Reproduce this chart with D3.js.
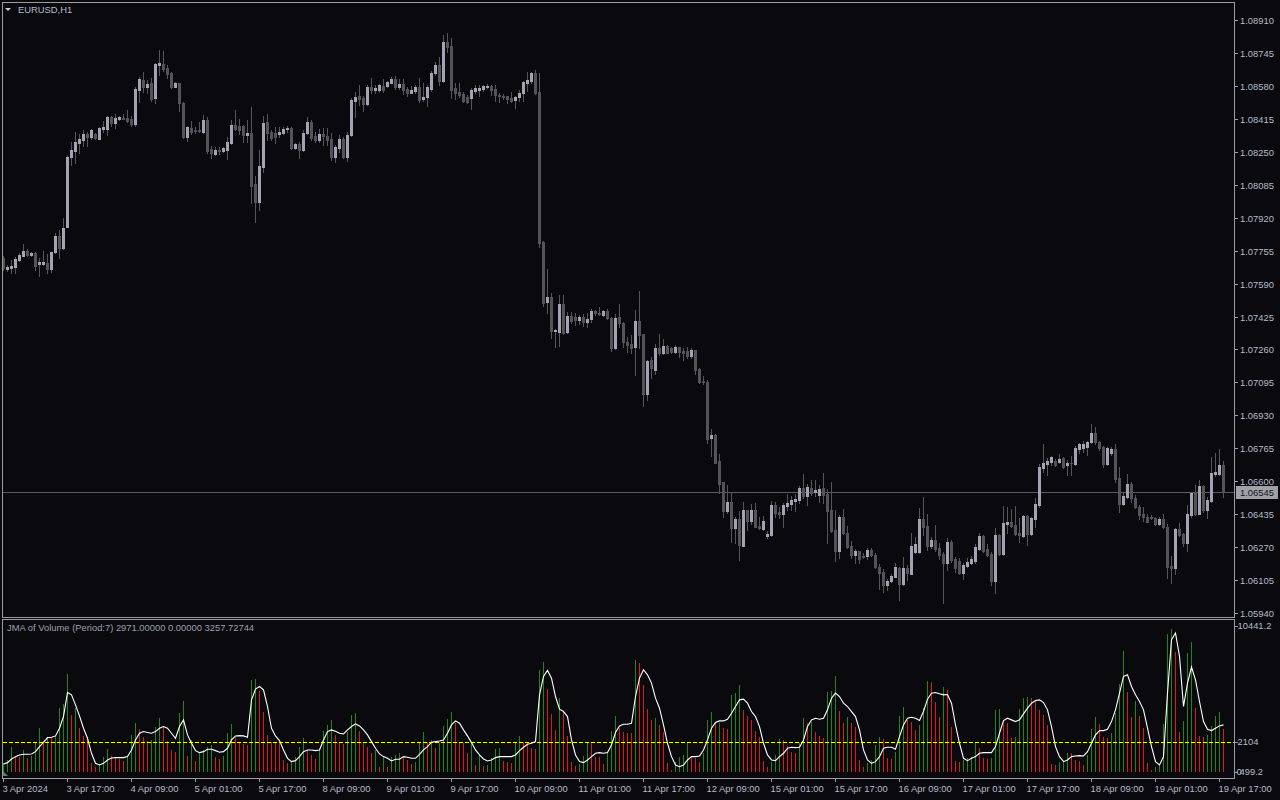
<!DOCTYPE html>
<html><head><meta charset="utf-8">
<script src="https://cdn.jsdelivr.net/npm/d3@7"></script>
<style>
html,body{margin:0;padding:0;background:#0a0a0e;overflow:hidden;}
svg{display:block;}
text{font-family:"Liberation Sans",Arial,sans-serif;font-size:9.4px;}
</style></head><body>
<svg id="c" width="1280" height="800"></svg>
<script>
// ---------------- DATA ----------------
const symbolTitle = "EURUSD,H1";
const indicatorTitle = "JMA of Volume (Period:7) 2971.00000 0.00000 3257.72744";
const firstBarUTC = "2024-04-03T01:00:00Z";

const opens = [1.07718,1.07663,1.07668,1.07673,1.07708,1.07728,1.07753,1.07733,1.07743,1.07688,
1.07688,1.07693,1.07663,1.07748,1.07828,1.07768,1.07873,1.08224,1.08254,1.08294,
1.08309,1.08339,1.08324,1.08339,1.08314,1.08364,1.08364,1.08424,1.08394,1.08414,
1.08419,1.08419,1.08414,1.08389,1.08559,1.08609,1.08574,1.08594,1.08519,1.08685,
1.08690,1.08670,1.08645,1.08574,1.08594,1.08494,1.08324,1.08369,1.08359,1.08359,
1.08349,1.08409,1.08264,1.08239,1.08259,1.08254,1.08259,1.08294,1.08384,1.08379,
1.08379,1.08334,1.08344,1.08089,1.07998,1.08174,1.08399,1.08349,1.08344,1.08339,
1.08344,1.08364,1.08369,1.08269,1.08289,1.08259,1.08344,1.08399,1.08329,1.08309,
1.08339,1.08329,1.08314,1.08224,1.08269,1.08314,1.08224,1.08334,1.08504,1.08529,
1.08519,1.08489,1.08574,1.08559,1.08559,1.08579,1.08579,1.08594,1.08614,1.08574,
1.08589,1.08564,1.08544,1.08554,1.08574,1.08514,1.08524,1.08564,1.08645,1.08685,
1.08604,1.08800,1.08780,1.08569,1.08549,1.08539,1.08524,1.08519,1.08554,1.08559,
1.08564,1.08574,1.08579,1.08564,1.08534,1.08529,1.08529,1.08519,1.08509,1.08524,
1.08544,1.08594,1.08604,1.08645,1.08549,1.07798,1.07498,1.07523,1.07352,1.07347,
1.07488,1.07347,1.07427,1.07422,1.07407,1.07422,1.07397,1.07412,1.07453,1.07443,
1.07432,1.07453,1.07417,1.07267,1.07422,1.07392,1.07297,1.07287,1.07272,1.07402,
1.07337,1.07037,1.07207,1.07157,1.07267,1.07242,1.07277,1.07267,1.07247,1.07272,
1.07252,1.07252,1.07227,1.07257,1.07162,1.07102,1.07097,1.06816,1.06831,1.06701,
1.06596,1.06451,1.06496,1.06366,1.06411,1.06276,1.06456,1.06401,1.06456,1.06376,
1.06361,1.06326,1.06331,1.06481,1.06446,1.06436,1.06476,1.06486,1.06501,1.06506,
1.06566,1.06526,1.06566,1.06546,1.06531,1.06566,1.06536,1.06456,1.06356,1.06250,
1.06421,1.06341,1.06276,1.06230,1.06250,1.06225,1.06225,1.06255,1.06230,1.06170,
1.06145,1.06080,1.06100,1.06120,1.06165,1.06085,1.06165,1.06135,1.06245,1.06245,
1.06411,1.06376,1.06276,1.06306,1.06266,1.06235,1.06190,1.06296,1.06210,1.06200,
1.06140,1.06175,1.06190,1.06200,1.06261,1.06326,1.06261,1.06235,1.06100,1.06331,
1.06235,1.06386,1.06396,1.06381,1.06341,1.06326,1.06426,1.06336,1.06411,1.06481,
1.06666,1.06686,1.06696,1.06701,1.06696,1.06716,1.06681,1.06691,1.06686,1.06761,
1.06766,1.06771,1.06796,1.06841,1.06796,1.06771,1.06686,1.06741,1.06761,1.06616,
1.06486,1.06521,1.06586,1.06516,1.06471,1.06436,1.06421,1.06421,1.06416,1.06386,
1.06411,1.06371,1.06175,1.06165,1.06361,1.06336,1.06291,1.06431,1.06541,1.06436,
1.06576,1.06456,1.06501,1.06636,1.06636,1.06681];

const highs = [1.07728,1.07683,1.07708,1.07723,1.07743,1.07788,1.07763,1.07748,1.07748,1.07718,
1.07753,1.07738,1.07748,1.07843,1.07858,1.07918,1.08234,1.08299,1.08349,1.08339,
1.08359,1.08349,1.08364,1.08344,1.08374,1.08404,1.08429,1.08429,1.08439,1.08429,
1.08439,1.08459,1.08429,1.08574,1.08625,1.08650,1.08609,1.08620,1.08695,1.08760,
1.08755,1.08685,1.08650,1.08599,1.08594,1.08499,1.08379,1.08404,1.08374,1.08399,
1.08434,1.08424,1.08279,1.08274,1.08274,1.08274,1.08324,1.08409,1.08459,1.08414,
1.08384,1.08409,1.08474,1.08129,1.08259,1.08429,1.08439,1.08359,1.08374,1.08374,
1.08374,1.08379,1.08374,1.08294,1.08299,1.08359,1.08424,1.08409,1.08349,1.08364,
1.08369,1.08369,1.08344,1.08284,1.08334,1.08324,1.08349,1.08519,1.08549,1.08584,
1.08529,1.08584,1.08620,1.08584,1.08589,1.08614,1.08604,1.08625,1.08630,1.08614,
1.08614,1.08574,1.08579,1.08584,1.08620,1.08594,1.08584,1.08655,1.08700,1.08725,
1.08835,1.08845,1.08820,1.08594,1.08594,1.08549,1.08534,1.08569,1.08584,1.08584,
1.08584,1.08589,1.08584,1.08584,1.08544,1.08539,1.08529,1.08549,1.08529,1.08559,
1.08604,1.08650,1.08650,1.08660,1.08645,1.07803,1.07663,1.07543,1.07362,1.07533,
1.07533,1.07448,1.07448,1.07443,1.07432,1.07438,1.07443,1.07463,1.07458,1.07473,
1.07458,1.07463,1.07422,1.07438,1.07488,1.07397,1.07322,1.07332,1.07458,1.07553,
1.07337,1.07207,1.07222,1.07287,1.07337,1.07312,1.07282,1.07272,1.07282,1.07272,
1.07267,1.07272,1.07267,1.07257,1.07167,1.07127,1.07107,1.06862,1.06836,1.06736,
1.06596,1.06581,1.06541,1.06421,1.06451,1.06496,1.06456,1.06486,1.06491,1.06421,
1.06426,1.06351,1.06501,1.06496,1.06471,1.06491,1.06536,1.06526,1.06536,1.06576,
1.06636,1.06586,1.06606,1.06606,1.06581,1.06641,1.06561,1.06596,1.06456,1.06431,
1.06461,1.06376,1.06301,1.06261,1.06250,1.06240,1.06266,1.06266,1.06240,1.06185,
1.06160,1.06110,1.06135,1.06190,1.06170,1.06220,1.06180,1.06341,1.06321,1.06466,
1.06521,1.06436,1.06321,1.06381,1.06291,1.06245,1.06316,1.06306,1.06220,1.06215,
1.06190,1.06215,1.06225,1.06286,1.06341,1.06331,1.06286,1.06245,1.06366,1.06336,
1.06476,1.06471,1.06461,1.06476,1.06416,1.06431,1.06431,1.06421,1.06516,1.06686,
1.06786,1.06716,1.06726,1.06711,1.06736,1.06721,1.06706,1.06726,1.06776,1.06791,
1.06801,1.06801,1.06887,1.06872,1.06801,1.06776,1.06771,1.06771,1.06786,1.06671,
1.06541,1.06636,1.06596,1.06531,1.06481,1.06471,1.06436,1.06431,1.06421,1.06421,
1.06436,1.06386,1.06225,1.06366,1.06391,1.06341,1.06481,1.06546,1.06581,1.06606,
1.06581,1.06521,1.06721,1.06741,1.06761,1.06701];

const lows = [1.07658,1.07653,1.07643,1.07643,1.07703,1.07728,1.07728,1.07728,1.07658,1.07628,
1.07683,1.07643,1.07648,1.07743,1.07718,1.07763,1.07873,1.08184,1.08194,1.08244,
1.08279,1.08279,1.08314,1.08314,1.08314,1.08349,1.08334,1.08379,1.08369,1.08409,
1.08414,1.08399,1.08379,1.08379,1.08499,1.08549,1.08544,1.08504,1.08494,1.08635,
1.08655,1.08620,1.08569,1.08574,1.08454,1.08319,1.08304,1.08339,1.08344,1.08349,
1.08344,1.08244,1.08219,1.08234,1.08239,1.08249,1.08214,1.08289,1.08359,1.08339,
1.08299,1.08299,1.07993,1.07898,1.07958,1.08149,1.08309,1.08309,1.08294,1.08324,
1.08339,1.08349,1.08264,1.08264,1.08219,1.08254,1.08339,1.08309,1.08299,1.08299,
1.08284,1.08284,1.08209,1.08199,1.08249,1.08219,1.08204,1.08329,1.08424,1.08484,
1.08454,1.08484,1.08544,1.08544,1.08549,1.08549,1.08574,1.08594,1.08564,1.08564,
1.08539,1.08529,1.08544,1.08544,1.08499,1.08504,1.08479,1.08554,1.08635,1.08584,
1.08599,1.08750,1.08519,1.08514,1.08524,1.08499,1.08494,1.08464,1.08544,1.08529,
1.08554,1.08569,1.08534,1.08504,1.08499,1.08514,1.08494,1.08499,1.08469,1.08504,
1.08504,1.08554,1.08594,1.08539,1.07773,1.07478,1.07443,1.07317,1.07272,1.07277,
1.07337,1.07342,1.07392,1.07382,1.07387,1.07377,1.07372,1.07397,1.07432,1.07432,
1.07427,1.07412,1.07252,1.07262,1.07372,1.07272,1.07247,1.07242,1.07132,1.07267,
1.06977,1.07007,1.07117,1.07137,1.07232,1.07237,1.07242,1.07242,1.07242,1.07222,
1.07207,1.07217,1.07217,1.07137,1.07092,1.07087,1.06791,1.06726,1.06691,1.06541,
1.06421,1.06441,1.06296,1.06291,1.06205,1.06276,1.06356,1.06386,1.06371,1.06361,
1.06356,1.06316,1.06326,1.06421,1.06416,1.06371,1.06456,1.06456,1.06451,1.06491,
1.06516,1.06481,1.06531,1.06526,1.06496,1.06491,1.06291,1.06346,1.06200,1.06215,
1.06336,1.06266,1.06215,1.06190,1.06190,1.06215,1.06210,1.06225,1.06165,1.06060,
1.06045,1.06055,1.06095,1.06120,1.06005,1.06080,1.06105,1.06135,1.06240,1.06240,
1.06331,1.06255,1.06266,1.06250,1.06210,1.05990,1.06155,1.06195,1.06145,1.06135,
1.06110,1.06170,1.06185,1.06190,1.06255,1.06245,1.06225,1.06080,1.06040,1.06230,
1.06230,1.06341,1.06371,1.06331,1.06296,1.06321,1.06281,1.06331,1.06371,1.06471,
1.06646,1.06631,1.06681,1.06676,1.06691,1.06666,1.06631,1.06631,1.06681,1.06741,
1.06746,1.06731,1.06791,1.06786,1.06756,1.06671,1.06681,1.06731,1.06596,1.06446,
1.06481,1.06516,1.06496,1.06466,1.06411,1.06401,1.06396,1.06411,1.06381,1.06381,
1.06366,1.06115,1.06090,1.06135,1.06326,1.06276,1.06250,1.06421,1.06431,1.06436,
1.06446,1.06416,1.06496,1.06626,1.06631,1.06521];

const closes = [1.07668,1.07673,1.07678,1.07713,1.07733,1.07753,1.07733,1.07743,1.07678,1.07698,
1.07698,1.07663,1.07748,1.07828,1.07768,1.07868,1.08224,1.08259,1.08299,1.08314,
1.08339,1.08324,1.08359,1.08319,1.08369,1.08374,1.08424,1.08394,1.08419,1.08424,
1.08414,1.08404,1.08389,1.08564,1.08614,1.08574,1.08589,1.08514,1.08690,1.08695,
1.08665,1.08640,1.08574,1.08594,1.08494,1.08324,1.08374,1.08349,1.08354,1.08354,
1.08409,1.08254,1.08244,1.08259,1.08254,1.08269,1.08299,1.08384,1.08364,1.08359,
1.08334,1.08344,1.08079,1.07998,1.08179,1.08394,1.08344,1.08319,1.08324,1.08349,
1.08364,1.08369,1.08269,1.08289,1.08259,1.08344,1.08399,1.08319,1.08309,1.08339,
1.08329,1.08309,1.08224,1.08274,1.08314,1.08224,1.08334,1.08509,1.08524,1.08514,
1.08489,1.08574,1.08559,1.08569,1.08584,1.08559,1.08599,1.08614,1.08574,1.08589,
1.08559,1.08544,1.08559,1.08574,1.08509,1.08524,1.08574,1.08645,1.08685,1.08604,
1.08800,1.08775,1.08559,1.08544,1.08534,1.08504,1.08499,1.08559,1.08569,1.08569,
1.08579,1.08579,1.08559,1.08534,1.08529,1.08524,1.08514,1.08504,1.08524,1.08544,
1.08599,1.08609,1.08645,1.08544,1.07793,1.07493,1.07523,1.07352,1.07357,1.07488,
1.07342,1.07427,1.07402,1.07407,1.07422,1.07397,1.07412,1.07453,1.07443,1.07438,
1.07453,1.07417,1.07267,1.07417,1.07392,1.07297,1.07282,1.07267,1.07402,1.07332,
1.07037,1.07202,1.07167,1.07267,1.07242,1.07277,1.07242,1.07247,1.07272,1.07247,
1.07242,1.07227,1.07257,1.07157,1.07097,1.07097,1.06811,1.06831,1.06691,1.06586,
1.06451,1.06496,1.06366,1.06411,1.06281,1.06456,1.06401,1.06456,1.06371,1.06366,
1.06401,1.06336,1.06481,1.06441,1.06436,1.06481,1.06491,1.06506,1.06511,1.06566,
1.06526,1.06571,1.06541,1.06556,1.06561,1.06531,1.06451,1.06351,1.06250,1.06421,
1.06341,1.06271,1.06230,1.06250,1.06210,1.06220,1.06255,1.06230,1.06170,1.06140,
1.06080,1.06100,1.06125,1.06170,1.06085,1.06165,1.06140,1.06276,1.06286,1.06411,
1.06371,1.06276,1.06306,1.06261,1.06230,1.06190,1.06296,1.06205,1.06165,1.06140,
1.06180,1.06195,1.06210,1.06271,1.06326,1.06250,1.06230,1.06100,1.06331,1.06235,
1.06391,1.06396,1.06376,1.06336,1.06331,1.06426,1.06336,1.06416,1.06486,1.06671,
1.06691,1.06701,1.06721,1.06681,1.06711,1.06671,1.06691,1.06689,1.06766,1.06786,
1.06786,1.06796,1.06841,1.06796,1.06766,1.06686,1.06766,1.06761,1.06611,1.06486,
1.06526,1.06586,1.06516,1.06471,1.06431,1.06421,1.06396,1.06416,1.06386,1.06411,
1.06371,1.06170,1.06165,1.06361,1.06331,1.06291,1.06436,1.06541,1.06436,1.06576,
1.06456,1.06506,1.06641,1.06646,1.06681,1.06545];

const volumes = [601,832,1756,1132,1063,1525,993,1109,2102,3072,
2171,2449,2333,2495,4412,4712,6791,3950,4412,3026,
2495,2449,601,323,554,1063,1571,1109,947,878,
785,1063,2564,3373,3003,2402,2171,2218,3142,3719,
3211,2171,1525,1409,4066,4943,1109,2218,785,1409,
1525,1756,1871,1016,878,1132,2680,3326,2402,2033,
1940,1871,6329,6445,5567,4181,2564,2102,2033,1987,
832,647,716,1063,1756,2333,1525,1178,878,1525,
2864,3257,3604,2564,1987,1940,2795,3950,4066,2864,
1987,1709,1340,1525,370,1063,370,1063,1178,1294,
1063,832,554,716,1987,2795,2102,2218,1686,1987,
3188,3650,4181,3373,2102,1987,1294,2102,485,1178,
439,485,947,1571,1640,762,716,647,2102,2495,
2102,1987,1686,1571,7069,7577,5752,4019,2911,5105,
4181,2495,716,416,554,1109,2102,1987,1063,1016,
554,1294,2864,3881,3026,2795,2726,2680,7762,7531,
6029,4343,3604,3765,3257,2795,601,139,716,1063,
1178,2033,1109,947,716,1340,3604,4181,3373,3419,
3026,2957,5336,5452,6029,4297,3881,3604,2841,2449,
762,370,716,1178,2287,2218,1802,1409,1294,2033,
3719,3419,3488,2795,2495,2333,5498,5613,6653,4250,
3419,3835,3419,3095,832,370,601,832,1871,2449,
2264,993,878,1409,3881,4481,3604,3488,2911,3257,
4412,6306,6191,4874,3835,5867,5636,3095,785,716,
832,947,1063,2102,1686,993,901,947,4297,4343,
3488,3373,2333,2449,4389,5105,5174,5105,4990,4297,
3950,3257,554,485,716,832,1340,1294,832,785,
485,1178,2957,3788,3326,2449,2333,2726,4066,6098,
8339,5498,3788,4943,3881,3026,601,139,370,485,
3326,9563,9887,8270,2795,3557,8224,8963,4458,2495,
2402,2564,3188,3881,4181,2971];

const jmaValues = [554,647,901,1063,1178,1224,1224,1247,1409,1756,
2056,2379,2402,2495,3026,3835,5498,5336,4643,3881,
3026,2333,1294,601,485,601,832,970,993,993,
993,1063,1525,2218,2680,2795,2726,2680,2795,3026,
3142,3026,2680,2333,3142,3604,2564,1987,1478,1340,
1409,1571,1571,1478,1363,1409,1640,2218,2495,2518,
2495,2402,4990,5729,5914,5683,4528,3026,2495,2171,
1525,947,716,785,1063,1409,1525,1525,1478,1525,
2218,2795,2911,2818,2680,2633,2911,3142,3326,3188,
2911,2564,2102,1640,1247,1063,947,762,878,878,
1063,1016,947,947,1224,1525,1756,2056,2102,2148,
2218,2680,3257,3534,3373,2911,2495,2033,1525,1178,
901,762,832,993,1063,1063,1063,1063,1178,1478,
1709,1917,1987,2102,5336,6607,7022,6491,5221,4343,
4181,3835,2218,1178,716,647,832,1063,1294,1340,
1294,1340,1871,2726,3188,3303,3303,3373,5221,6491,
7069,6722,6145,5105,4412,3257,1987,1063,485,370,
485,832,1063,1063,1109,1525,2218,3026,3419,3534,
3534,3650,4066,4528,4990,5036,4759,4181,3835,3142,
1987,1178,832,785,1063,1294,1640,1709,1686,1709,
2218,3142,3604,3719,3650,3719,4297,5105,5452,5221,
4759,4528,4181,3835,2911,1525,832,601,716,1063,
1640,1709,1709,1571,2449,3257,3719,3788,3719,3557,
4181,5036,5452,5498,5405,5336,5359,4759,3257,1987,
947,785,947,1063,1294,1340,1340,1340,1756,2680,
3557,3719,3604,3488,3604,4019,4412,4759,4943,4990,
4805,4297,3142,1756,1063,716,832,1063,1109,1132,
1109,1409,1987,2564,2864,2864,2957,3488,4297,5452,
6607,6722,5914,5336,4874,4297,3026,1756,716,485,
1063,5452,9148,9610,7993,4528,6145,7253,6376,4874,
3488,2957,2864,3026,3188,3257.72744];

const priceTicks = [1.08910,1.08745,1.08580,1.08415,1.08250,1.08085,1.07920,1.07755,1.07590,1.07425,
1.07260,1.07095,1.06930,1.06765,1.06600,1.06435,1.06270,1.06105,1.05940];
const priceMin = 1.05940, priceMax = 1.08910;
const lastPrice = 1.06545;
const volumeMax = 10441.2, volumeLevel = 2104, indicatorMin = 499.2;
const volumeAxisLabels = [["10441.2",10441.2],["2104",2104],["0",0],["499.2",0]];
const timeTickLabels = ["3 Apr 2024","3 Apr 17:00","4 Apr 09:00","5 Apr 01:00","5 Apr 17:00","8 Apr 09:00",
"9 Apr 01:00","9 Apr 17:00","10 Apr 09:00","11 Apr 01:00","11 Apr 17:00","12 Apr 09:00","15 Apr 01:00",
"15 Apr 17:00","16 Apr 09:00","17 Apr 01:00","17 Apr 17:00","18 Apr 09:00","19 Apr 01:00","19 Apr 17:00"];

// ---------------- STYLE ----------------
const C = {
  bg:"#0a0a0e", frame:"#9a9ca4", text:"#b4bccb", legend:"#9aa0ac",
  bull:"#a3a3b3", bear:"#545458", wick:"#56565a", priceLine:"#5c5c60",
  volUp:"#1a8a12", volDown:"#e01818", jma:"#ffffff", level:"#ffff00"
};

// ---------------- BUILD ----------------
const N = closes.length;
const barTimes = [];
{ let t = new Date(firstBarUTC).getTime();
  while (barTimes.length < N) { const d = new Date(t); const wd = d.getUTCDay();
    if (wd !== 0 && wd !== 6) barTimes.push(d); t += 3600e3; } }

const svg = d3.select("#c");
svg.append("rect").attr("width",1280).attr("height",800).attr("fill",C.bg);

const plotL = 2, plotR = 1234;
const mainTop = 2, mainBot = 617, volTop = 619, volBot = 778;

const x = d3.scaleBand().domain(d3.range(N)).range([1.5, 1.5 + 4*N]).padding(0);
const xc = i => x(i) + x.bandwidth()/2;
const yP = d3.scaleLinear().domain([priceMin, priceMax]).range([613, 20]);
const yV = d3.scaleLinear().domain([0, volumeMax]).range([772, 621]);

const data = d3.range(N).map(i => ({i, o:opens[i], h:highs[i], l:lows[i], c:closes[i], v:volumes[i], j:jmaValues[i]}));

const defs = svg.append("defs");
defs.append("clipPath").attr("id","clipMain").append("rect")
  .attr("x",plotL+1).attr("y",mainTop+1).attr("width",plotR-plotL-1).attr("height",mainBot-mainTop-1);
defs.append("clipPath").attr("id","clipVol").append("rect")
  .attr("x",plotL+1).attr("y",volTop+1).attr("width",plotR-plotL-1).attr("height",volBot-volTop-1);

const gMain = svg.append("g").attr("clip-path","url(#clipMain)").attr("shape-rendering","crispEdges");
gMain.append("line").attr("x1",plotL).attr("x2",plotR)
  .attr("y1",Math.round(yP(lastPrice))+0.5).attr("y2",Math.round(yP(lastPrice))+0.5)
  .attr("stroke",C.priceLine).attr("stroke-width",1);

gMain.selectAll("rect.wick").data(data).join("rect").attr("class","wick")
  .attr("x", d => Math.floor(xc(d.i)))
  .attr("width",1)
  .attr("y", d => Math.round(yP(d.h)))
  .attr("height", d => Math.max(1, Math.round(yP(d.l)) - Math.round(yP(d.h)) + 1))
  .attr("fill", C.wick);
gMain.selectAll("rect.body").data(data).join("rect").attr("class","body")
  .attr("x", d => Math.floor(xc(d.i)) - 1)
  .attr("width",3)
  .attr("y", d => Math.round(yP(Math.max(d.o,d.c))))
  .attr("height", d => Math.max(1, Math.round(yP(Math.min(d.o,d.c))) - Math.round(yP(Math.max(d.o,d.c))) + 1))
  .attr("fill", d => d.c >= d.o ? C.bull : C.bear);

const gVol = svg.append("g").attr("clip-path","url(#clipVol)");
gVol.append("g").attr("shape-rendering","crispEdges").selectAll("rect").data(data).join("rect")
  .attr("x", d => Math.floor(xc(d.i)))
  .attr("width",1)
  .attr("y", d => Math.round(yV(d.v)))
  .attr("height", d => Math.max(1, Math.round(yV(0)) - Math.round(yV(d.v))))
  .attr("fill", d => (d.i === 0 || d.v > volumes[d.i-1]) ? C.volUp : C.volDown);
gVol.append("line").attr("x1",plotL+1).attr("x2",plotR)
  .attr("y1",Math.round(yV(volumeLevel))+0.5).attr("y2",Math.round(yV(volumeLevel))+0.5)
  .attr("stroke",C.level).attr("stroke-width",1).attr("stroke-dasharray","4,2")
  .attr("shape-rendering","crispEdges");
gVol.append("path").datum(data)
  .attr("d", d3.line().x(d => xc(d.i)).y(d => yV(d.j)))
  .attr("fill","none").attr("stroke",C.jma).attr("stroke-width",1.1);

const gF = svg.append("g").attr("shape-rendering","crispEdges").attr("fill","none").attr("stroke",C.frame);
gF.append("rect").attr("x",plotL+0.5).attr("y",mainTop+0.5).attr("width",plotR-plotL).attr("height",mainBot-mainTop);
gF.append("rect").attr("x",plotL+0.5).attr("y",volTop+0.5).attr("width",plotR-plotL).attr("height",volBot-volTop);

const gA = svg.append("g");
priceTicks.forEach(p => {
  const yy = Math.round(yP(p)) + 0.5;
  gA.append("line").attr("x1",plotR).attr("x2",plotR+4).attr("y1",yy).attr("y2",yy)
    .attr("stroke",C.frame).attr("shape-rendering","crispEdges");
  gA.append("text").attr("x",1240).attr("y",yy).attr("dy","0.35em").attr("fill",C.text).text(p.toFixed(5));
});
{ const yy = Math.round(yP(lastPrice));
  gA.append("rect").attr("x",1236).attr("y",yy-6).attr("width",42).attr("height",13).attr("fill","#a0a0a6");
  gA.append("text").attr("x",1240).attr("y",yy+0.5).attr("dy","0.35em").attr("fill","#10141c").text(lastPrice.toFixed(5)); }

volumeAxisLabels.forEach(([lab,v]) => {
  const yy = Math.min(772, Math.max(626, yV(v)));
  const xx = lab === "0" ? 1236.5 : (lab === "499.2" ? 1239.5 : 1237.5);
  if (lab !== "499.2") gA.append("line").attr("x1",plotR).attr("x2",plotR+4).attr("y1",Math.round(yy)+0.5).attr("y2",Math.round(yy)+0.5)
    .attr("stroke",C.frame).attr("shape-rendering","crispEdges");
  gA.append("text").attr("x",xx).attr("y",yy).attr("dy","0.35em").attr("fill",C.text).text(lab);
});

const fmtH = d3.utcFormat("%-d %b %H:%M"), fmtY = d3.utcFormat("%-d %b %Y");
timeTickLabels.forEach(lab => {
  const i = barTimes.findIndex((t,k) => (k === 0 ? fmtY(t) : fmtH(t)) === lab);
  if (i < 0) return;
  const xx = Math.floor(xc(i)) + 0.5;
  gA.append("line").attr("x1",xx).attr("x2",xx).attr("y1",volBot).attr("y2",volBot+4)
    .attr("stroke",C.frame).attr("shape-rendering","crispEdges");
  gA.append("text").attr("x",xx-1).attr("y",789).attr("dy","0.35em").attr("fill",C.text).text(lab);
});

svg.append("path").attr("d","M5,8 L11,8 L8,11 Z").attr("fill","#c8ccd4");
svg.append("text").attr("x",18).attr("y",10).attr("dy","0.35em").attr("fill",C.text).text(symbolTitle);
svg.append("text").attr("x",7).attr("y",628).attr("dy","0.35em").attr("fill",C.legend).text(indicatorTitle);
svg.append("path").attr("d","M3,771 L3,776 L8,776 Z").attr("fill","#707078");
</script>
</body></html>
